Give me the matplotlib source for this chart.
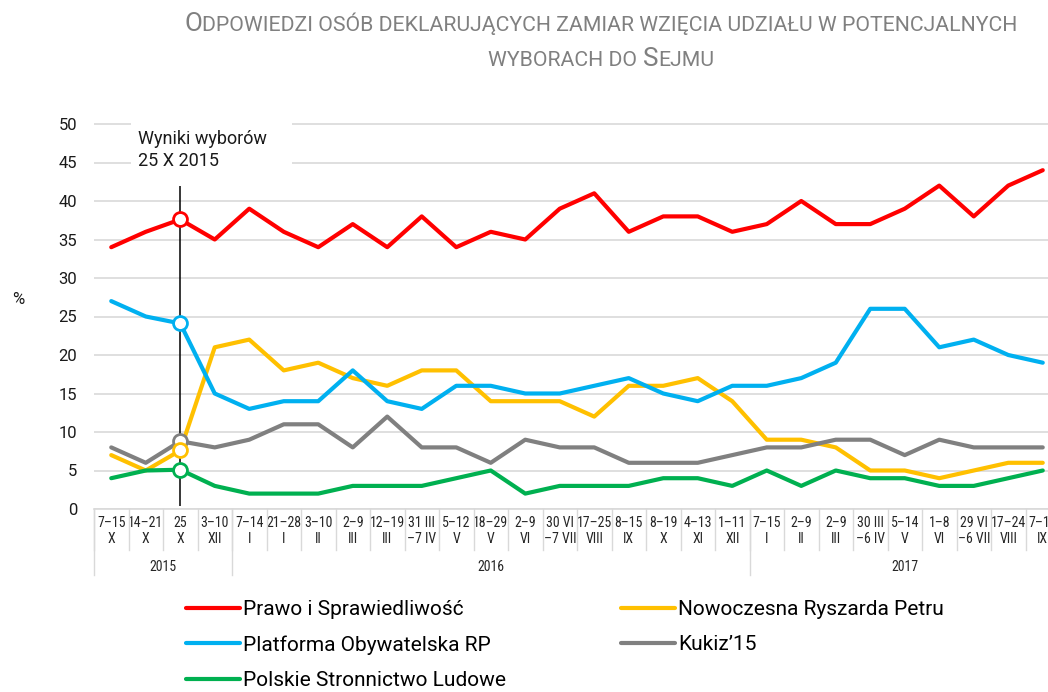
import matplotlib
matplotlib.use('Agg')
import matplotlib.pyplot as plt
import matplotlib.transforms as mtransforms
from matplotlib import font_manager
from matplotlib.patches import Rectangle
from matplotlib.offsetbox import TextArea, HPacker, VPacker, AnchoredOffsetbox

# terminy badań (kategorie osi X)
terminy = ['7–15\nX', '14–21\nX', '25\nX', '3–10\nXII',
           '7–14\nI', '21–28\nI', '3–10\nII', '2–9\nIII', '12–19\nIII', '31 III\n–7 IV',
           '5–12\nV', '18–29\nV', '2–9\nVI', '30 VI\n–7 VII', '17–25\nVIII', '8–15\nIX',
           '8–19\nX', '4–13\nXI', '1–11\nXII',
           '7–15\nI', '2–9\nII', '2–9\nIII', '30 III\n–6 IV', '5–14\nV', '1–8\nVI',
           '29 VI\n–6 VII', '17–24\nVIII', '7–14\nIX']
lata = ['2015', '2016', '2017']
lata_liczba = [4, 15, 9]

# wyniki partii w %
pis = [34, 36, 37.6, 35, 39, 36, 34, 37, 34, 38, 34, 36, 35, 39, 41, 36, 38, 38, 36,
       37, 40, 37, 37, 39, 42, 38, 42, 44]
po = [27, 25, 24.1, 15, 13, 14, 14, 18, 14, 13, 16, 16, 15, 15, 16, 17, 15, 14, 16,
      16, 17, 19, 26, 26, 21, 22, 20, 19]
nowoczesna = [7, 5, 7.6, 21, 22, 18, 19, 17, 16, 18, 18, 14, 14, 14, 12, 16, 16, 17, 14,
              9, 9, 8, 5, 5, 4, 5, 6, 6]
kukiz = [8, 6, 8.8, 8, 9, 11, 11, 8, 12, 8, 8, 6, 9, 8, 8, 6, 6, 6, 7,
         8, 8, 9, 9, 7, 9, 8, 8, 8]
psl = [4, 5, 5.1, 3, 2, 2, 2, 3, 3, 3, 4, 5, 2, 3, 3, 3, 4, 4, 3,
       5, 3, 5, 4, 4, 3, 3, 4, 5]
wybory_idx = 2  # 25 X 2015

partie = ['Prawo i Sprawiedliwość', 'Nowoczesna Ryszarda Petru', 'Platforma Obywatelska RP',
          'Kukiz’15', 'Polskie Stronnictwo Ludowe']
wartosci = [pis, nowoczesna, po, kukiz, psl]
kolory = ['#ff0000', '#ffc000', '#00b0f0', '#808080', '#00b050']

plt.rcParams['font.family'] = ['Roboto', 'DejaVu Sans']

# wąska czcionka do etykiet osi X, jeśli jest
dostepne = {f.name for f in font_manager.fontManager.ttflist}
waska = next((f for f in ['Liberation Sans Narrow', 'Roboto Condensed', 'Arial Narrow']
              if f in dostepne), None)
if waska:
    rodzina_x, rozmiar_x = [waska, 'DejaVu Sans'], 10
else:
    rodzina_x, rozmiar_x = ['Roboto', 'DejaVu Sans'], 8.5

W, H = 1048, 692
fig = plt.figure(figsize=(W / 100, H / 100), dpi=100)
ax = fig.add_axes([94 / W, (H - 509) / H, 966 / W, 51 * 7.7 / H])

x = list(range(len(terminy)))
linie = {}
for nazwa, vals, kol in zip(partie, wartosci, kolory):
    l, = ax.plot(x, vals, color=kol, lw=3, solid_joinstyle='round',
                 solid_capstyle='round', zorder=2, label=nazwa)
    linie[nazwa] = l

# punkty z wynikami wyborów
for nazwa in ['Prawo i Sprawiedliwość', 'Platforma Obywatelska RP', 'Kukiz’15',
              'Nowoczesna Ryszarda Petru', 'Polskie Stronnictwo Ludowe']:
    i = partie.index(nazwa)
    ax.plot([wybory_idx], [wartosci[i][wybory_idx]], 'o', ms=10, mfc='white',
            mec=kolory[i], mew=2, zorder=4)

ax.vlines(wybory_idx, 0.4, 41.9, color='black', lw=1.1, zorder=2.5)
ax.add_patch(Rectangle((0.57, 42.1), 4.67, 10, facecolor='white', edgecolor='none', zorder=1))
ax.text(0.78, 49.2, 'Wyniki wyborów\n25 X 2015', fontsize=13, va='top', ha='left',
        linespacing=1.3, color='#1a1a1a', zorder=3)

ax.set_xlim(-0.5, len(terminy) - 0.5)
ax.set_ylim(0, 51)
ax.set_yticks(range(0, 51, 5))
ax.set_xticks(x)
ax.set_xticklabels(terminy, fontsize=rozmiar_x, family=rodzina_x, linespacing=1.15)
ax.tick_params(axis='x', length=0, pad=5, colors='#262626')
ax.tick_params(axis='y', length=0, pad=12, labelsize=12, colors='#1a1a1a')
ax.yaxis.grid(True, color='#d9d9d9', lw=1.2)
ax.set_axisbelow(True)
for s in ['top', 'right', 'left']:
    ax.spines[s].set_visible(False)
ax.spines['bottom'].set_color('#d9d9d9')
ax.spines['bottom'].set_linewidth(1.2)

# tabelka pod osią X: kreski i lata
h_px = H * ax.get_position().height
tr = mtransforms.blended_transform_factory(ax.transData, ax.transAxes)
for i in range(len(terminy) + 1):
    ax.plot([i - 0.5, i - 0.5], [0, -41 / h_px], transform=tr, color='#d9d9d9',
            lw=1, clip_on=False)
start = -0.5
for rok, n in zip(lata, lata_liczba):
    ax.plot([start, start], [0, -66 / h_px], transform=tr, color='#d9d9d9',
            lw=1, clip_on=False)
    ax.text(start + n / 2, -58 / h_px, rok, transform=tr, ha='center', va='center',
            fontsize=rozmiar_x, family=rodzina_x, color='#262626')
    start += n

fig.text(18 / W, 1 - 300 / H, '%', fontsize=12, ha='center', va='center', color='#1a1a1a')

# tytuł kapitalikami
szary = '#808080'


def kawalek(tekst, duzy=False):
    return TextArea(tekst, textprops=dict(fontsize=18.8 if duzy else 15.3, color=szary))


linia1 = HPacker(children=[kawalek('O', True),
                           kawalek('DPOWIEDZI OSÓB DEKLARUJĄCYCH ZAMIAR WZIĘCIA UDZIAŁU W POTENCJALNYCH')],
                 align='baseline', pad=0, sep=0)
linia2 = HPacker(children=[kawalek('WYBORACH DO'),
                           HPacker(children=[kawalek('S', True), kawalek('EJMU')],
                                   align='baseline', pad=0, sep=0)],
                 align='baseline', pad=0, sep=4)
tytul = VPacker(children=[linia1, linia2], align='center', pad=0, sep=8)
fig.add_artist(AnchoredOffsetbox(loc='upper center', child=tytul, pad=0, borderpad=0,
                                 frameon=False, bbox_to_anchor=(601 / W, 1 - 12 / H),
                                 bbox_transform=fig.transFigure))

# legenda
kolejnosc = ['Prawo i Sprawiedliwość', 'Platforma Obywatelska RP', 'Polskie Stronnictwo Ludowe',
             'Nowoczesna Ryszarda Petru', 'Kukiz’15']
fig.legend([linie[k] for k in kolejnosc], kolejnosc, loc='upper left',
           bbox_to_anchor=(186 / W, 1 - 600 / H), ncol=2, frameon=False, fontsize=15,
           handlelength=2.6, handletextpad=0.15, columnspacing=5.5, labelspacing=0.78,
           borderpad=0, borderaxespad=0)

fig.savefig('out.png', dpi=100)
